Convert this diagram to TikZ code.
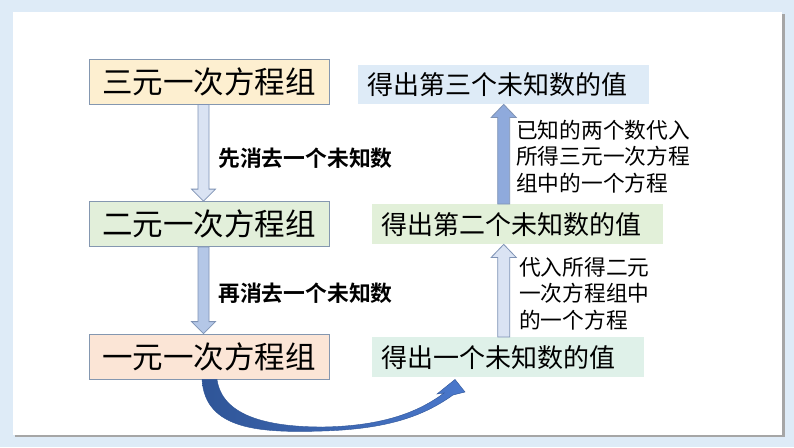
\documentclass[tikz,border=0pt]{standalone}
\usepackage{fontspec}
\newfontfamily\cjk{Noto Sans CJK SC}[BoldFont={Noto Sans CJK SC Bold}]
\usetikzlibrary{calc}
\definecolor{bgblue}{HTML}{DEEBF7}
\definecolor{shadowgray}{HTML}{A6A6A6}
\definecolor{boxline}{HTML}{8497B0}
\definecolor{fillA}{HTML}{FDEFD0}
\definecolor{fillB}{HTML}{E2EFDA}
\definecolor{fillC}{HTML}{FBE5D6}
\definecolor{fillR1}{HTML}{DEEBF7}
\definecolor{fillR2}{HTML}{E2F0D9}
\definecolor{fillR3}{HTML}{DFF1E9}
\definecolor{arrA}{HTML}{DAE3F3}
\definecolor{arrB}{HTML}{B4C7E7}
\definecolor{arrC}{HTML}{8FAADC}
\definecolor{arrline}{HTML}{7F93B5}
\definecolor{curvA}{HTML}{2F5597}
\definecolor{curvB}{HTML}{4A78CC}
\newcommand\blkdown[4]{%
  \draw[barrow,fill=#3] ($(#1)+(#4-5.5,0)$) -- ($(#1)+(#4+5.5,0)$) -- ($(#2)+(#4+5.5,-12)$) -- ($(#2)+(#4+12,-12)$) -- ($(#2)+(#4,0)$) -- ($(#2)+(#4-12,-12)$) -- ($(#2)+(#4-5.5,-12)$) -- cycle;}
\newcommand\blkup[3]{%
  \draw[barrow,fill=#3] ($(#1)+(-6,0)$) -- ($(#1)+(6,0)$) -- ($(#2)+(6,13)$) -- ($(#2)+(12.5,13)$) -- (#2) -- ($(#2)+(-12.5,13)$) -- ($(#2)+(-6,13)$) -- cycle;}
\begin{document}
\begin{tikzpicture}[x=1pt,y=-1pt,
  lbox/.style={draw=boxline, line width=0.8pt, minimum width=240pt, minimum height=45pt, inner sep=0pt, font=\cjk\fontsize{30.5}{36}\selectfont},
  rbox/.style={inner xsep=9pt, inner ysep=0pt, align=left, anchor=north west, font=\cjk\fontsize{26}{30}\selectfont},
  barrow/.style={draw=arrline, line width=0.8pt, line join=miter},
  lab/.style={inner sep=0pt, anchor=west, align=left}]
\useasboundingbox (0,0) rectangle (794,447);
\fill[bgblue] (0,0) rectangle (794,447);
\fill[shadowgray] (15,14) rectangle (785,437);
\fill[white] (13,12) rectangle (782,434.5);
% left boxes
\node[lbox, fill=fillA] (b1) at (209,81.5) {三元一次方程组};
\node[lbox, fill=fillB] (b2) at (209,224) {二元一次方程组};
\node[lbox, fill=fillC] (b3) at (209,356.5) {一元一次方程组};
% right boxes
\node[rbox, fill=fillR1, text width=273pt, minimum height=39pt] (r1) at (358,65) {得出第三个未知数的值};
\node[rbox, fill=fillR2, text width=273pt, minimum height=40pt] (r2) at (372,204) {得出第二个未知数的值};
\node[rbox, fill=fillR3, text width=254pt, minimum height=40pt] (r3) at (372,337) {得出一个未知数的值};
% block arrows
\blkdown{b1.south}{b2.north}{arrA}{-5.5}
\blkdown{b2.south}{b3.north}{arrB}{-5.5}
\coordinate (u1b) at (r1.south |- r2.north);
\coordinate (u2b) at (r1.south |- r3.north);
\coordinate (u2t) at (r1.south |- r2.south);
\blkup{u1b}{r1.south}{arrC}
\blkup{u2b}{u2t}{arrA}
% labels
\node[lab, font=\cjk\bfseries\fontsize{21.8}{25}\selectfont] (l1) at (218,158) {先消去一个未知数};
\node[lab, font=\cjk\bfseries\fontsize{21.8}{25}\selectfont] (l2) at (218,293) {再消去一个未知数};
\node[lab, font=\cjk\fontsize{21.7}{26.5}\selectfont] (l3) at (516,156.5) {已知的两个数代入\\所得三元一次方程\\组中的一个方程};
\node[lab, font=\cjk\fontsize{21.7}{26.5}\selectfont] (l4) at (519,293.5) {代入所得二元\\一次方程组中\\的一个方程};
% curved arrow
\coordinate (cs1) at ($(b3.south)+(-7,0)$);
\coordinate (cs2) at ($(b3.south)+(8,0)$);
\coordinate (ct) at ($(r3.south west)+(83,2)$);
\shadedraw[left color=curvA, right color=curvB, draw=curvA, line width=0.4pt, line join=miter]
  (cs1) .. controls (205,430) and (260,433) .. (323,431)
  .. controls (390,429) and (425,415) .. (453,395)
  -- (465,392) -- (ct) -- (437,394) -- (444,393)
  .. controls (420,411) and (385,426) .. (323,427)
  .. controls (265,427) and (222,415) .. (cs2) -- cycle;
\end{tikzpicture}
\end{document}
